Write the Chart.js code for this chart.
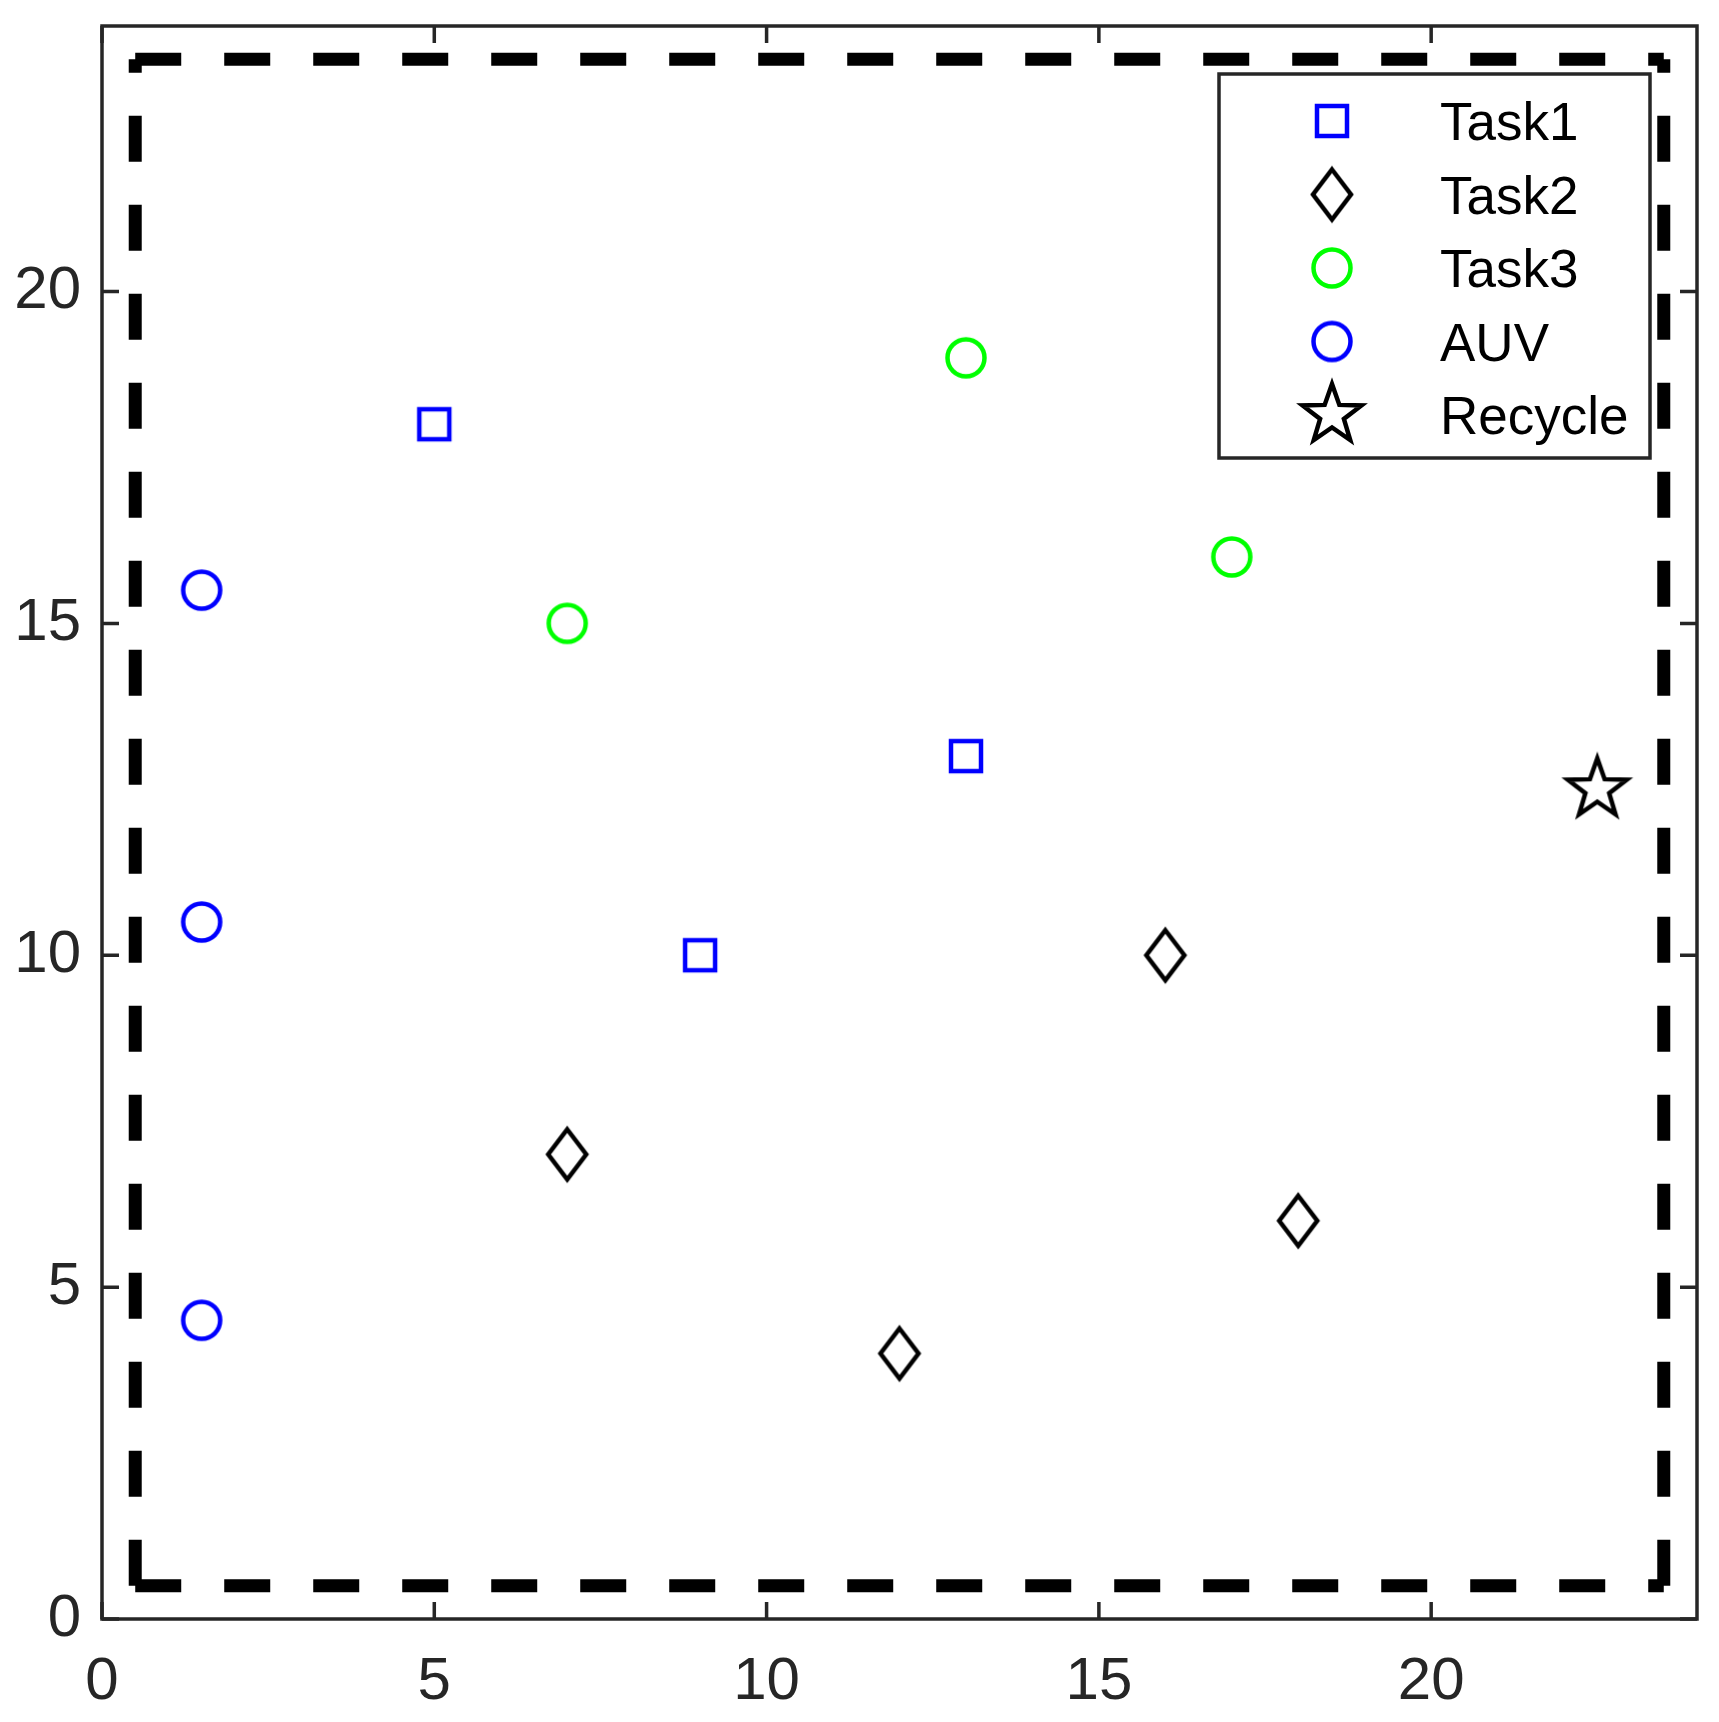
<!DOCTYPE html>
<html>
<head>
<meta charset="utf-8">
<script src="https://cdn.jsdelivr.net/npm/chart.js@4"></script>
<style>
    html, body { margin: 0; padding: 0; background: #fff; }
    #wrap { width: 1719px; height: 1722px; }
</style>
</head>
<body>
<div id="wrap"><canvas id="chart" width="1719" height="1722"></canvas></div>
<script>
// Daten
const task1X = [5, 9, 13];
const task1Y = [18, 10, 13];
const task2X = [7, 12, 16, 18];
const task2Y = [7, 4, 10, 6];
const task3X = [7, 13, 17];
const task3Y = [15, 19, 16];
const auvX = [1.5, 1.5, 1.5];
const auvY = [15.5, 10.5, 4.5];
const recycleX = [22.5];
const recycleY = [12.5];
// Rechteck als vier einzelne Seiten (null = Lücke)
const areaX = [0.5, 23.5, null, 0.5, 0.5, null, 0.5, 23.5, null, 23.5, 23.5];
const areaY = [0.5, 0.5, null, 0.5, 23.5, null, 23.5, 23.5, null, 0.5, 23.5];
const xTicks = [0, 5, 10, 15, 20];
const yTicks = [0, 5, 10, 15, 20];
const axisMin = 0;
const axisMax = 24;

const FONT = 'Liberation Sans, Arial, Helvetica, sans-serif';
const AXIS_COLOR = '#262626';

function toPoints(xs, ys) {
    return xs.map((x, i) => ({ x: x, y: ys[i] }));
}

// Marker als kleine Canvas-Bilder
function makeMarker(color, draw) {
    const cv = document.createElement('canvas');
    cv.width = 76;
    cv.height = 76;
    const g = cv.getContext('2d');
    g.strokeStyle = color;
    g.lineWidth = 4.5;
    g.lineJoin = 'miter';
    g.translate(38, 38);
    g.beginPath();
    draw(g);
    g.closePath();
    g.stroke();
    return cv;
}

const squareMarker = makeMarker('#0000ff', g => g.rect(-15, -15, 30, 30));
const diamondMarker = makeMarker('#000000', g => {
    g.moveTo(0, -25); g.lineTo(19, 0); g.lineTo(0, 25); g.lineTo(-19, 0);
});
const greenCircle = makeMarker('#00ff00', g => g.arc(0, 0, 18.5, 0, Math.PI * 2));
const blueCircle = makeMarker('#0000ff', g => g.arc(0, 0, 18.5, 0, Math.PI * 2));
const starMarker = makeMarker('#000000', g => {
    for (let i = 0; i < 10; i++) {
        const r = i % 2 ? 12.5 : 31;
        const a = -Math.PI / 2 + i * Math.PI / 5;
        if (i === 0) g.moveTo(r * Math.cos(a), r * Math.sin(a));
        else g.lineTo(r * Math.cos(a), r * Math.sin(a));
    }
});

// Achsenrahmen mit Ticks nach innen
const boxPlugin = {
    id: 'axesBox',
    afterDraw(chart) {
        const ctx = chart.ctx;
        const a = chart.chartArea;
        const xs = chart.scales.x;
        const ys = chart.scales.y;
        const tl = 17;
        ctx.save();
        ctx.strokeStyle = AXIS_COLOR;
        ctx.lineWidth = 3.5;
        ctx.beginPath();
        xTicks.forEach(v => {
            const px = xs.getPixelForValue(v);
            ctx.moveTo(px, a.bottom); ctx.lineTo(px, a.bottom - tl);
            ctx.moveTo(px, a.top); ctx.lineTo(px, a.top + tl);
        });
        yTicks.forEach(v => {
            const py = ys.getPixelForValue(v);
            ctx.moveTo(a.left, py); ctx.lineTo(a.left + tl, py);
            ctx.moveTo(a.right, py); ctx.lineTo(a.right - tl, py);
        });
        ctx.stroke();
        ctx.strokeRect(a.left, a.top, a.right - a.left, a.bottom - a.top);
        ctx.restore();
    }
};

// Legende oben rechts im Diagramm
const legendPlugin = {
    id: 'boxLegend',
    afterDraw(chart) {
        const ctx = chart.ctx;
        const box = { left: 1219, top: 74, right: 1650, bottom: 458 };
        const markerX = 1332;
        const textX = 1440;
        const firstRow = 121;
        const rowStep = 73.5;
        ctx.save();
        ctx.fillStyle = '#ffffff';
        ctx.fillRect(box.left, box.top, box.right - box.left, box.bottom - box.top);
        ctx.strokeStyle = AXIS_COLOR;
        ctx.lineWidth = 3.5;
        ctx.strokeRect(box.left, box.top, box.right - box.left, box.bottom - box.top);
        ctx.font = '53px ' + FONT;
        ctx.fillStyle = '#000000';
        ctx.textBaseline = 'alphabetic';
        let row = 0;
        chart.data.datasets.forEach(ds => {
            if (!ds.label) return;
            const y = firstRow + row * rowStep;
            const img = ds.pointStyle;
            ctx.drawImage(img, markerX - img.width / 2, y - img.height / 2);
            ctx.fillText(ds.label, textX, y + 19);
            row++;
        });
        ctx.restore();
    }
};

const tickFont = { family: FONT, size: 60 };

const chart = new Chart(document.getElementById('chart').getContext('2d'), {
    type: 'scatter',
    data: {
        datasets: [
            { label: 'Task1', data: toPoints(task1X, task1Y), pointStyle: squareMarker, order: 1 },
            { label: 'Task2', data: toPoints(task2X, task2Y), pointStyle: diamondMarker, order: 1 },
            { label: 'Task3', data: toPoints(task3X, task3Y), pointStyle: greenCircle, order: 1 },
            { label: 'AUV', data: toPoints(auvX, auvY), pointStyle: blueCircle, order: 1 },
            { label: 'Recycle', data: toPoints(recycleX, recycleY), pointStyle: starMarker, order: 1 },
            {
                label: '',
                data: toPoints(areaX, areaY),
                showLine: true,
                spanGaps: false,
                pointRadius: 0,
                borderColor: '#000000',
                borderWidth: 13,
                borderDash: [46, 43],
                borderCapStyle: 'butt',
                borderJoinStyle: 'miter',
                tension: 0,
                order: 2
            }
        ]
    },
    options: {
        responsive: false,
        animation: false,
        layout: { padding: { top: 26, right: 22, left: 0, bottom: 0 } },
        plugins: {
            legend: { display: false },
            tooltip: { enabled: false }
        },
        scales: {
            x: {
                type: 'linear',
                min: axisMin,
                max: axisMax,
                grid: { display: false, drawTicks: false, tickLength: 0 },
                border: { display: false },
                ticks: { font: tickFont, color: AXIS_COLOR, padding: 27, maxRotation: 0, autoSkip: false },
                afterBuildTicks: s => { s.ticks = xTicks.map(v => ({ value: v })); },
                afterFit: s => {
                    s.height = 103;
                    s.paddingLeft = 0; s.paddingRight = 0; s.paddingTop = 0; s.paddingBottom = 0;
                }
            },
            y: {
                type: 'linear',
                min: axisMin,
                max: axisMax,
                grid: { display: false, drawTicks: false, tickLength: 0 },
                border: { display: false },
                ticks: { font: tickFont, color: AXIS_COLOR, padding: 21, autoSkip: false },
                afterBuildTicks: s => { s.ticks = yTicks.map(v => ({ value: v })); },
                afterFit: s => {
                    s.width = 102;
                    s.paddingLeft = 0; s.paddingRight = 0; s.paddingTop = 0; s.paddingBottom = 0;
                }
            }
        }
    },
    plugins: [boxPlugin, legendPlugin]
});
</script>
</body>
</html>
